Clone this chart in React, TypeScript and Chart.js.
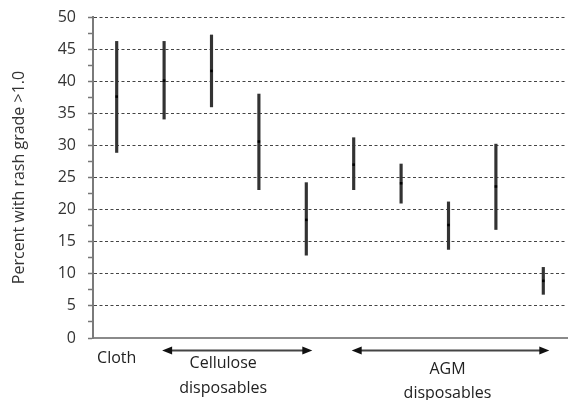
import React, { useEffect, useRef } from "react";
import { Chart, registerables } from "chart.js";

Chart.register(...registerables);

// ---- data ----
const categories = ["Cloth", "Cellulose 1", "Cellulose 2", "Cellulose 3", "Cellulose 4", "AGM 1", "AGM 2", "AGM 3", "AGM 4", "AGM 5"];
const xTickLabels = ["Cloth", "", "", "", "", "", "", "", "", ""];
const lowValues = [28.9, 34.1, 36.0, 23.1, 12.9, 23.1, 21.0, 13.8, 16.9, 6.8];
const highValues = [46.2, 46.2, 47.2, 38.0, 24.2, 31.2, 27.1, 21.2, 30.2, 11.0];
const midValues = [37.6, 40.1, 41.6, 30.6, 18.4, 27.0, 24.1, 17.6, 23.6, 8.9];
const groupLabels = [["Cellulose", "disposables"], ["AGM", "disposables"]];
const groupStart = [1, 5];
const groupEnd = [4, 9];
const yMin = 0;
const yMax = 50;
const yMajorStep = 5;
const yMinorStep = 2.5;
const yTitle = "Percent with rash grade >1.0";

const FONT = "'Open Sans', 'Noto Sans', sans-serif";

const groupPlugin = {
  id: "groupArrows",
  afterDraw(chart: any) {
    const ctx = chart.ctx;
    const x = chart.scales.x;
    const base = chart.chartArea.bottom;
    ctx.save();
    groupLabels.forEach((lines, g) => {
      const x1 = x.getPixelForValue(groupStart[g]) - 2;
      const x2 = x.getPixelForValue(groupEnd[g]) + 6;
      const ay = base + 12.5;
      ctx.strokeStyle = "#444";
      ctx.fillStyle = "#111";
      ctx.lineWidth = 2;
      ctx.beginPath();
      ctx.moveTo(x1 + 6, ay);
      ctx.lineTo(x2 - 6, ay);
      ctx.stroke();
      ctx.beginPath();
      ctx.moveTo(x1, ay);
      ctx.lineTo(x1 + 10, ay - 4);
      ctx.lineTo(x1 + 10, ay + 4);
      ctx.closePath();
      ctx.fill();
      ctx.beginPath();
      ctx.moveTo(x2, ay);
      ctx.lineTo(x2 - 10, ay - 4);
      ctx.lineTo(x2 - 10, ay + 4);
      ctx.closePath();
      ctx.fill();
      const cx = (x1 + x2) / 2 - (g === 0 ? 14 : 3);
      ctx.font = `16px ${FONT}`;
      ctx.fillStyle = "#222";
      ctx.textAlign = "center";
      ctx.textBaseline = "middle";
      const ly = g === 0 ? [base + 25, base + 50] : [base + 31, base + 55];
      lines.forEach((t, i) => ctx.fillText(t, cx, ly[i]));
    });
    ctx.restore();
  },
};

export default function App() {
  const ref = useRef<HTMLCanvasElement | null>(null);
  useEffect(() => {
    document.body.style.margin = "0";
    const chart = new Chart(ref.current as HTMLCanvasElement, {
      type: "bar",
      data: {
        labels: categories,
        datasets: [
          {
            type: "bar",
            order: 2,
            data: lowValues.map((l, i) => [l, highValues[i]]) as any,
            backgroundColor: "#333",
            borderWidth: 0,
            barThickness: 2.5,
          } as any,
          {
            type: "line",
            order: 1,
            data: midValues,
            showLine: false,
            pointStyle: "rect",
            pointRadius: 1.8,
            pointBackgroundColor: "#000",
            pointBorderWidth: 0,
          } as any,
        ],
      },
      options: {
        animation: false,
        responsive: false,
        devicePixelRatio: 1,
        layout: { padding: { top: 17, right: 2, left: 0, bottom: 0 } },
        plugins: { legend: { display: false }, tooltip: { enabled: false } },
        scales: {
          x: {
            grid: { display: false, drawTicks: false },
            border: { display: true, color: "#8a8a8a", width: 2 },
            ticks: {
              autoSkip: false,
              maxRotation: 0,
              padding: 11,
              color: "#222",
              font: { family: FONT, size: 16 },
              callback: (_v: any, i: number) => xTickLabels[i],
            },
            afterFit: (s: any) => {
              s.height = 62;
            },
          },
          y: {
            min: yMin,
            max: yMax,
            title: {
              display: true,
              text: yTitle,
              color: "#333",
              font: { family: FONT, size: 16 },
              padding: { top: 10, bottom: 0 },
            },
            ticks: {
              stepSize: yMinorStep,
              autoSkip: false,
              padding: 12,
              color: "#333",
              font: { family: FONT, size: 16 },
              callback: (v: any) => (Number(v) % yMajorStep === 0 ? String(v) : ""),
            },
            grid: {
              color: (c: any) =>
                c.tick && c.tick.value % yMajorStep === 0 && c.tick.value !== 0 ? "#444" : "rgba(0,0,0,0)",
              tickColor: "#777",
              tickLength: 5,
              tickWidth: 1.5,
              lineWidth: 1,
            },
            border: { display: true, color: "#7a7a7a", width: 2, dash: [3, 2.5] },
            afterFit: (s: any) => {
              s.width = 93;
              s.paddingTop = 8;
              s.paddingBottom = 8;
            },
          },
        },
      },
      plugins: [groupPlugin],
    });
    return () => chart.destroy();
  }, []);
  return (
    <div style={{ position: "relative", width: 571, height: 400 }}>
      <canvas ref={ref} width={571} height={400} />
    </div>
  );
}
